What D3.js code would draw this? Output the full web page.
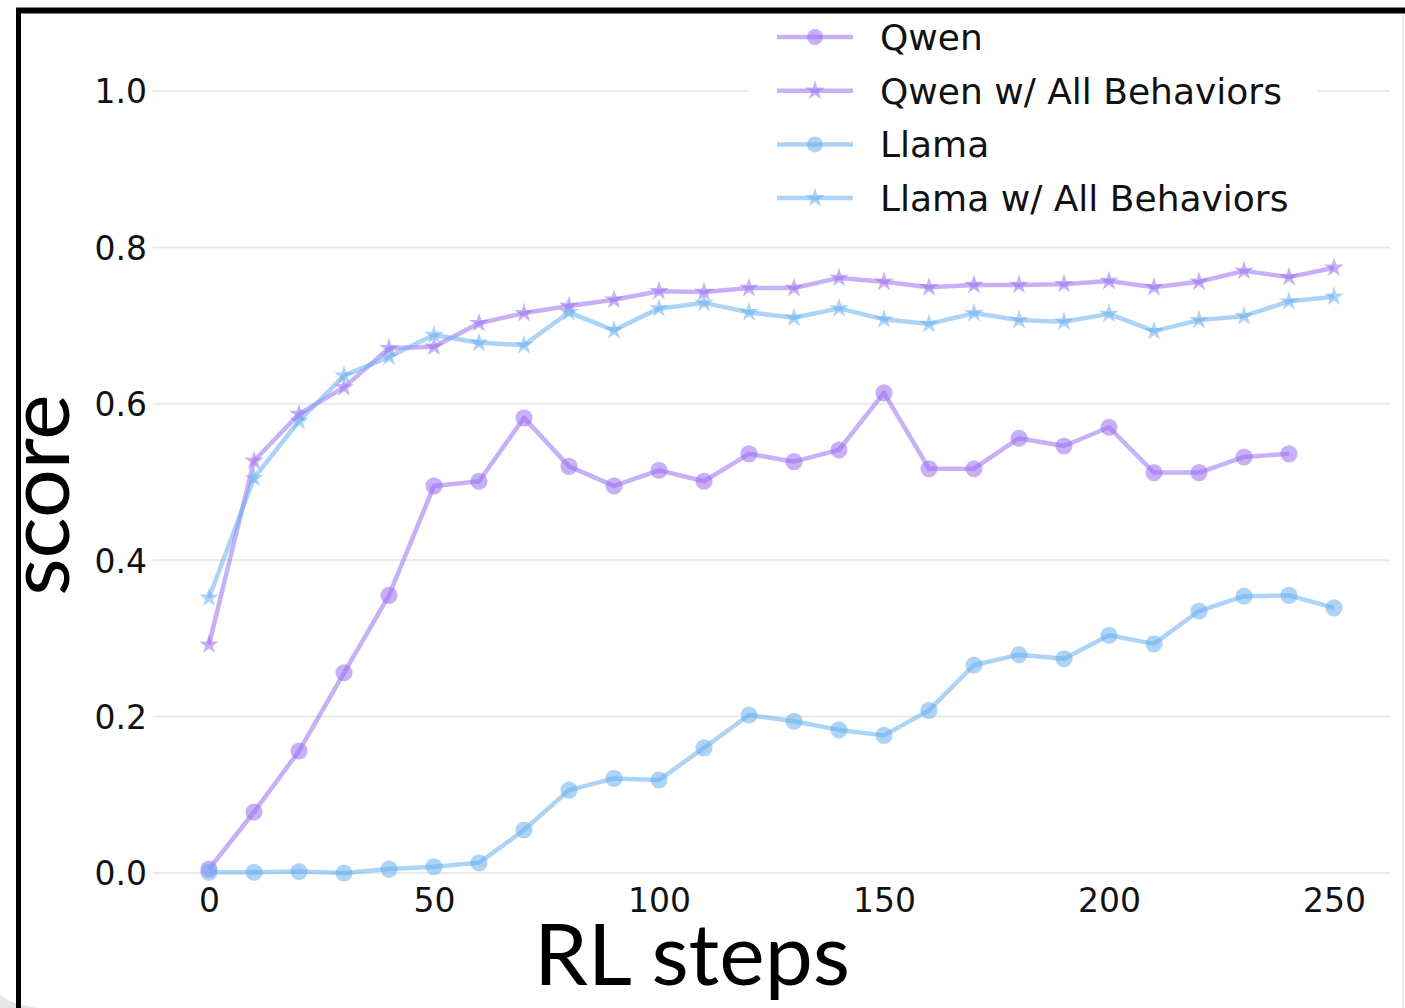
<!DOCTYPE html>
<html>
<head>
<meta charset="utf-8">
<script src="https://cdn.jsdelivr.net/npm/d3@7"></script>
<style>
  body { margin: 0; background: #fff; }
  svg { display: block; }
</style>
</head>
<body>
<div id="chart"></div>
<script>
// data
const steps = d3.range(0, 260, 10);
const qwen = [0.005, 0.078, 0.156, 0.256, 0.355, 0.495, 0.501, 0.582, 0.52, 0.495, 0.515, 0.501, 0.536,
  0.526, 0.541, 0.614, 0.517, 0.517, 0.556, 0.546, 0.570, 0.512, 0.512, 0.532, 0.536];
const qwenAll = [0.292, 0.527, 0.587, 0.621, 0.671, 0.673, 0.703, 0.716, 0.725, 0.733, 0.744, 0.743, 0.748,
  0.748, 0.761, 0.756, 0.749, 0.752, 0.752, 0.753, 0.757, 0.749, 0.756, 0.770, 0.762, 0.774];
const llama = [0.001, 0.001, 0.002, 0.000, 0.005, 0.008, 0.013, 0.055, 0.106, 0.121, 0.119, 0.160, 0.202,
  0.194, 0.183, 0.176, 0.208, 0.266, 0.279, 0.274, 0.304, 0.293, 0.335, 0.354, 0.355, 0.339];
const llamaAll = [0.352, 0.505, 0.578, 0.636, 0.660, 0.688, 0.678, 0.675, 0.717, 0.694, 0.722, 0.729, 0.717,
  0.710, 0.722, 0.708, 0.702, 0.716, 0.707, 0.705, 0.715, 0.693, 0.707, 0.712, 0.731, 0.737];
const yTicks = [0, 0.2, 0.4, 0.6, 0.8, 1.0];
const xTicks = [0, 50, 100, 150, 200, 250];

const purple = "#9a6ff0", blue = "#6aaeee";
const series = [
  { name: "Qwen", values: qwen, color: purple, marker: "circle" },
  { name: "Qwen w/ All Behaviors", values: qwenAll, color: purple, marker: "star" },
  { name: "Llama", values: llama, color: blue, marker: "circle" },
  { name: "Llama w/ All Behaviors", values: llamaAll, color: blue, marker: "star" },
];

const W = 1405, H = 1008;
const alpha = 0.55;

const x = d3.scaleLinear().domain([-12.5, 262.5]).range([152.75, 1390.25]);
const y = d3.scaleLinear().domain([0, 1]).range([873, 91]);

const svg = d3.select("#chart").append("svg").attr("width", W).attr("height", H);

// frame (top and left black edges of the cropped figure)
svg.append("path").attr("d", `M0,${H - 14} Q8,${H - 4} 40,${H}  L0,${H} Z`).attr("fill", "#e6e6e6");
svg.append("line").attr("x1", 16).attr("x2", W).attr("y1", 10.5).attr("y2", 10.5)
  .attr("stroke", "#000").attr("stroke-width", 6);
svg.append("line").attr("x1", 18.5).attr("x2", 18.5).attr("y1", 8).attr("y2", H)
  .attr("stroke", "#000").attr("stroke-width", 5);
svg.append("line").attr("x1", 1403).attr("x2", 1403).attr("y1", 14).attr("y2", H)
  .attr("stroke", "#eee").attr("stroke-width", 2);

// grid
svg.append("g").selectAll("line").data(yTicks).join("line")
  .attr("x1", x.range()[0]).attr("x2", x.range()[1])
  .attr("y1", d => y(d)).attr("y2", d => y(d))
  .attr("stroke", "#e9e9e9").attr("stroke-width", 2);

// axes (labels only, no ticks or spines)
const yAxis = d3.axisLeft(y).tickValues(yTicks).tickFormat(d3.format(".1f")).tickSize(0).tickPadding(0);
const xAxis = d3.axisBottom(x).tickValues(xTicks).tickFormat(d3.format("d")).tickSize(0).tickPadding(0);

svg.append("g").attr("transform", "translate(147,0)").call(yAxis)
  .call(g => g.select(".domain").remove())
  .selectAll("text").attr("font-family", "DejaVu Sans").attr("font-size", 33).attr("fill", "#111")
  .attr("dy", "0.36em");
svg.append("g").attr("transform", "translate(0,887)").call(xAxis)
  .call(g => g.select(".domain").remove())
  .selectAll("text").attr("font-family", "DejaVu Sans").attr("font-size", 33).attr("fill", "#111")
  .attr("dy", "0.76em");

const line = d3.line().x((d, i) => x(steps[i])).y(d => y(d));
const star = d3.symbol().type(d3.symbolStar).size(120);
const circle = d3.symbol().type(d3.symbolCircle).size(230);

const plot = svg.append("g");
series.forEach(s => {
  const g = plot.append("g");
  g.append("path").datum(s.values).attr("d", line)
    .attr("fill", "none").attr("stroke", s.color).attr("stroke-opacity", alpha)
    .attr("stroke-width", 4.5).attr("stroke-linejoin", "round");
  g.selectAll("path.m").data(s.values).join("path").attr("class", "m")
    .attr("transform", (d, i) => `translate(${x(steps[i])},${y(d)})`)
    .attr("d", s.marker === "star" ? star : circle)
    .attr("fill", s.color).attr("fill-opacity", alpha);
});

// legend
const lg = svg.append("g");
lg.append("rect").attr("x", 748).attr("y", 14).attr("width", 570).attr("height", 212).attr("fill", "#fff");
series.forEach((s, i) => {
  const ly = 37 + i * 53.7;
  lg.append("line").attr("x1", 777).attr("x2", 853).attr("y1", ly).attr("y2", ly)
    .attr("stroke", s.color).attr("stroke-opacity", alpha).attr("stroke-width", 4.5);
  lg.append("path").attr("transform", `translate(815,${ly})`)
    .attr("d", s.marker === "star" ? star : d3.symbol().type(d3.symbolCircle).size(200))
    .attr("fill", s.color).attr("fill-opacity", alpha);
  lg.append("text").attr("x", 880).attr("y", ly).attr("dy", "0.36em")
    .attr("font-family", "DejaVu Sans").attr("font-size", 36).attr("fill", "#111").text(s.name);
});

// axis titles
svg.append("text").attr("x", 692).attr("y", 985).attr("text-anchor", "middle")
  .attr("font-family", "Lato").attr("font-size", 86).attr("fill", "#000").text("RL steps");
svg.append("text").attr("transform", "translate(69,495) rotate(-90)").attr("text-anchor", "middle")
  .attr("font-family", "Lato").attr("font-size", 86).attr("fill", "#000").text("score");
</script>
</body>
</html>
